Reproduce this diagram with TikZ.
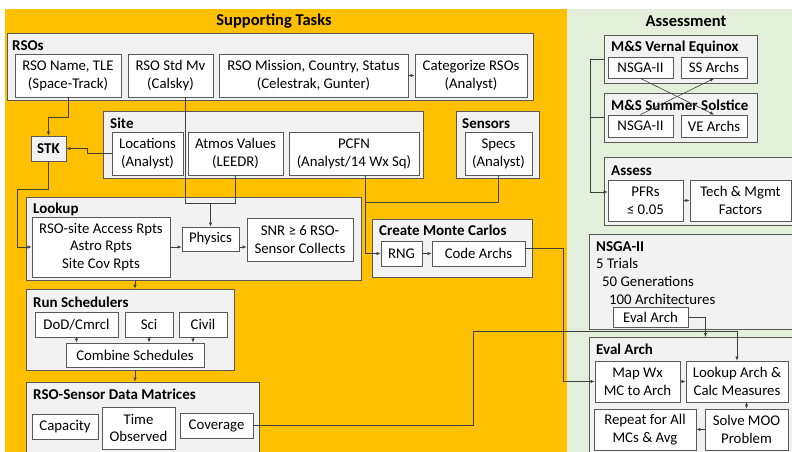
\documentclass[tikz,border=0pt]{standalone}
\usepackage{fontspec}
\setmainfont{Carlito}
\usetikzlibrary{arrows.meta,calc}
\definecolor{orng}{HTML}{FFC000}
\definecolor{grn}{HTML}{E2EFDA}
\definecolor{gfill}{HTML}{F2F2F2}
\definecolor{bord}{HTML}{595959}
\definecolor{lin}{HTML}{404040}
\newcommand\BX[7]{\node[#1, minimum width={#5-#3}, minimum height={#6-#4}] (#2) at ({(#3+#5)/2},{(#4+#6)/2}) {#7};}
\begin{document}
\begin{tikzpicture}[x=1pt,y=-1pt,
  gbox/.style={draw=bord, line width=0.9pt, fill=gfill, inner sep=0pt, rectangle},
  ibox/.style={draw=bord, line width=0.9pt, fill=white, inner sep=0pt, rectangle, align=center, font=\fontsize{14.8}{17.8}\selectfont},
  glab/.style={anchor=base west, inner sep=0pt, font=\fontsize{15}{18}\selectfont\bfseries},
  btxt/.style={anchor=base west, inner sep=0pt, font=\fontsize{14.8}{17.8}\selectfont},
  ttl/.style={inner sep=0pt, font=\fontsize{16.5}{20}\selectfont\bfseries},
  conn/.style={draw=lin, line width=0.6pt},
  arr/.style={conn, -{Latex[length=4pt,width=3.5pt]}},
]
\clip (0,0) rectangle (792,452);
\fill[white] (0,0) rectangle (792,452);
\fill[orng] (5,9) rectangle (567,452);
\fill[grn] (567,9) rectangle (792,452);

\node[ttl] (t1) at (274,21) {Supporting Tasks};
\node[ttl] (t2) at (686,21) {Assessment};

% RSOs
\BX{gbox}{rsos}{7}{33}{533}{100}{}
\node[glab] (rsosl) at (12,51) {RSOs};
\BX{ibox}{rsoname}{15}{54}{121}{97}{RSO Name, TLE\\(Space-Track)}
\BX{ibox}{stdmv}{128}{54}{213}{97}{RSO Std Mv\\(Calsky)}
\BX{ibox}{mission}{219}{54}{408}{97}{RSO Mission, Country, Status\\(Celestrak, Gunter)}
\BX{ibox}{categ}{415}{54}{527}{97}{Categorize RSOs\\(Analyst)}

% Site
\BX{gbox}{site}{103}{111}{423}{178}{}
\node[glab] (sitel) at (110,128) {Site};
\BX{ibox}{loc}{112}{132}{183}{175}{Locations\\(Analyst)}
\BX{ibox}{atmos}{188}{132}{283}{175}{Atmos Values\\(LEEDR)}
\BX{ibox}{pcfn}{289}{132}{419}{175}{PCFN\\(Analyst/14 Wx Sq)}

% Sensors
\BX{gbox}{sens}{456}{111}{539}{178}{}
\node[glab] (sensl) at (462,128) {Sensors};
\BX{ibox}{specs}{465}{132}{532}{175}{Specs\\(Analyst)}

% STK
\BX{gbox,font=\fontsize{15}{18}\selectfont\bfseries}{stk}{31}{136}{66}{161}{STK}

% Lookup
\BX{gbox}{lookup}{26}{197}{361}{280}{}
\node[glab] (lookupl) at (33,213) {Lookup};
\BX{ibox}{rsosite}{32}{217}{170}{277}{RSO-site Access Rpts\\Astro Rpts\\Site Cov Rpts}
\BX{ibox}{physics}{182}{227}{239}{251}{Physics}
\BX{ibox}{snr}{247}{218}{353}{261}{SNR ≥ 6 RSO-\\Sensor Collects}

% Monte Carlos
\BX{gbox}{mc}{372}{219}{532}{277}{}
\node[glab] (mcl) at (379,235) {Create Monte Carlos};
\BX{ibox}{rng}{381}{241}{422}{266}{RNG}
\BX{ibox}{code}{432}{241}{525}{266}{Code Archs}

% Run Schedulers
\BX{gbox}{runs}{26}{289}{234}{370}{}
\node[glab] (runsl) at (33,307) {Run Schedulers};
\BX{ibox}{dod}{35}{312}{118}{337}{DoD/Cmrcl}
\BX{ibox}{sci}{125}{312}{173}{337}{Sci}
\BX{ibox}{civil}{179}{312}{227}{337}{Civil}
\BX{ibox}{comb}{66}{343}{204}{367}{Combine Schedules}

% Matrices
\BX{gbox}{mat}{26}{382}{259}{462}{}
\node[glab] (matl) at (33,399) {RSO-Sensor Data Matrices};
\BX{ibox}{cap}{32}{414}{98}{439}{Capacity}
\BX{ibox}{timeo}{102}{407}{175}{449}{Time\\Observed}
\BX{ibox}{cov}{180}{413}{253}{438}{Coverage}

% Assessment
\BX{gbox}{vern}{604}{35}{757}{83}{}
\node[glab] (vernl) at (611,52) {M\&S Vernal Equinox};
\BX{ibox}{vnsga}{608}{57}{673}{78}{NSGA-II}
\BX{ibox}{ssar}{681}{57}{747}{78}{SS Archs}
\BX{gbox}{summ}{604}{93}{757}{142}{}
\node[glab] (summl) at (611,110) {M\&S Summer Solstice};
\BX{ibox}{snsga}{608}{115}{673}{137}{NSGA-II}
\BX{ibox}{vear}{681}{115}{747}{137}{VE Archs}
\BX{gbox}{assess}{604}{157}{800}{225}{}
\node[glab] (assessl) at (611,175) {Assess};
\BX{ibox}{pfrs}{608}{180}{683}{221}{PFRs\\≤ 0.05}
\BX{ibox}{tech}{690}{180}{791}{221}{Tech \& Mgmt\\Factors}

\BX{gbox}{nsga}{589}{234}{800}{329}{}
\node[glab] (nsgal) at (596,251) {NSGA-II};
\node[btxt] (tr) at (596,268) {5 Trials};
\node[btxt] (gen) at (602,286) {50 Generations};
\node[btxt] (archs) at (609,304) {100 Architectures};
\BX{ibox}{evin}{613}{307}{688}{327}{Eval Arch}

\BX{gbox}{eval}{589}{337}{800}{462}{}
\node[glab] (evall) at (596,354) {Eval Arch};
\BX{ibox}{mapwx}{595}{361}{680}{402}{Map Wx\\MC to Arch}
\BX{ibox}{lkar}{686}{361}{788}{402}{Lookup Arch \&\\Calc Measures}
\BX{ibox}{rep}{594}{409}{696}{450}{Repeat for All\\MCs \& Avg}
\BX{ibox}{solve}{705}{409}{788}{450}{Solve MOO\\Problem}

% coordinates
\coordinate (c1) at (17,189);
\coordinate (j1) at (210.5,203);
\coordinate (j2) at (365,202);
\coordinate (c3) at (473,331);
\coordinate (c4) at (590,0);
\coordinate (x135) at (135,0);
\coordinate (x185) at (185.5,0);
\coordinate (x193) at (193,0);

% connectors
\draw[arr] (mission.east) -- (categ.west);
\draw[arr] (rsoname.south) -- ++(0,20) -| (stk.north);
\draw[arr] (loc.west) -- ++(-24,0) |- (stk.east);
\draw[conn] (stdmv.south -| x185) |- (atmos.south |- j1) -- (atmos.south);
\draw[arr] (j1) -- (physics.north);
\draw[arr] (stk.south) |- (c1) |- (rsosite.west);
\draw[arr] (rsosite.east) -- (rsosite.east -| physics.west);
\draw[arr] (rsosite.east -| physics.east) -- (rsosite.east -| snr.west);
\draw[conn] (specs.south) |- (j2);
\draw[arr] (pcfn.south -| j2) |- (rng.west);
\draw[arr] (rng.east) -- (code.west);
\draw[arr] ([yshift=5.5pt]code.east) -- ++(38,0) |- (mapwx.west);
\draw[arr] (lookup.south -| x135) -- (runs.north -| x135);
\draw[arr] (runs.south -| x135) -- (mat.north -| x135);
\draw[arr] (dod.south) -- (dod.south |- comb.north);
\draw[arr] (sci.south) -- (sci.south |- comb.north);
\draw[arr] (civil.south -| x193) -- (comb.north -| x193);
\draw[arr] (cov.east) -| (c3) -| (lkar.north);
\draw[arr] (evin.east) -- ++(17,0) -- ++(0,20);
\draw[arr] (mapwx.east) -- (lkar.west);
\draw[arr] (solve.north |- lkar.south) -- (solve.north);
\draw[arr] (solve.west) -- (solve.west -| rep.east);
\draw[conn] (vern.west) -- (vern.west -| c4);
\draw[conn] (summ.west) -- (summ.west -| c4);
\draw[arr] (vern.west -| c4) |- ([yshift=8.5pt]pfrs.west);
\draw[arr] (pfrs.east) -- (tech.west);
\draw[arr] (vnsga.south) -- (vear.north);
\draw[arr] (snsga.north) -- (ssar.south);
\end{tikzpicture}
\end{document}
